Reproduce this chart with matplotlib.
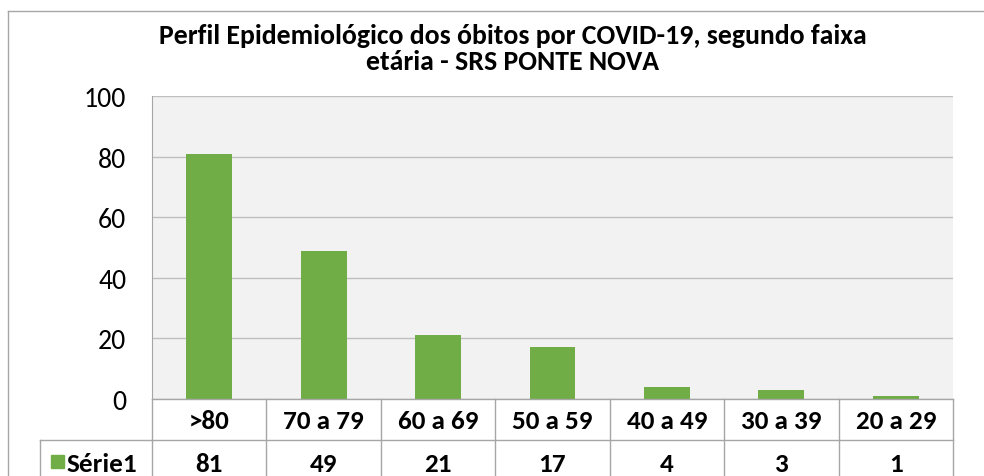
import matplotlib.pyplot as plt
from matplotlib.patches import Rectangle
from matplotlib.lines import Line2D

# data
age_groups = ['>80', '70 a 79', '60 a 69', '50 a 59', '40 a 49', '30 a 39', '20 a 29']
deaths = [81, 49, 21, 17, 4, 3, 1]
series_name = 'Série1'
title_lines = ['Perfil Epidemiológico dos óbitos por COVID-19, segundo faixa',
               'etária - SRS PONTE NOVA']

W, H = 984, 477
BAR = '#70AD47'
GRID = '#BFBFBF'
LINE = '#A6A6A6'

plt.rcParams['font.family'] = ['Carlito', 'Open Sans', 'DejaVu Sans']

fig = plt.figure(figsize=(W / 100, H / 100), dpi=100)


def fx(px):
    return px / W


def fy(py):
    return 1 - py / H


# plot area in pixels
left, right, top, bottom = 152, 953, 97, 400
ax = fig.add_axes([fx(left), fy(bottom), fx(right - left), (bottom - top) / H])
ax.set_facecolor('#F2F2F2')
ax.bar(range(len(deaths)), deaths, width=0.4, color=BAR, zorder=3)
ax.set_xlim(-0.5, len(deaths) - 0.5)
ax.set_ylim(0, 100)
ax.set_yticks(range(0, 101, 20))
ax.yaxis.grid(True, color=GRID, linewidth=1, zorder=0)
ax.set_xticks([])
for s in ['top', 'right', 'bottom']:
    ax.spines[s].set_visible(False)
ax.spines['left'].set_color(LINE)
ax.tick_params(axis='y', length=0, labelsize=20, pad=18.5)

# data table under the plot
row1_bottom, row2_bottom = 441, 490
col_w = (right - left) / len(age_groups)
tf = fig.transFigure
lines = []
lines.append(((left, right), (bottom, bottom)))
lines.append(((left, right), (row1_bottom, row1_bottom)))
lines.append(((40, left), (row1_bottom, row1_bottom)))
lines.append(((40, 40), (row1_bottom, row2_bottom)))
for i in range(len(age_groups) + 1):
    x = left + i * col_w
    lines.append(((x, x), (bottom, row2_bottom)))
for xs, ys in lines:
    fig.add_artist(Line2D([fx(v) for v in xs], [fy(v) for v in ys], transform=tf,
                          color=LINE, linewidth=1))

for i, (g, d) in enumerate(zip(age_groups, deaths)):
    cx = left + (i + 0.5) * col_w
    fig.text(fx(cx), fy(429), g, ha='center', va='baseline',
             fontsize=19.5, fontweight='heavy')
    fig.text(fx(cx), fy(472), str(d), ha='center', va='baseline',
             fontsize=19.5, fontweight='heavy')

fig.add_artist(Rectangle((fx(51), fy(469)), fx(13), 13 / H, transform=tf,
                         color=BAR))
fig.text(fx(67), fy(472), series_name, ha='left', va='baseline',
         fontsize=19.5, fontweight='heavy')

# chart border
fig.add_artist(Line2D([fx(8), fx(984)], [fy(12), fy(12)], transform=tf, color=LINE, linewidth=1))
fig.add_artist(Line2D([fx(8), fx(8)], [fy(12), fy(477)], transform=tf, color=LINE, linewidth=1))

for j, line in enumerate(title_lines):
    fig.text(fx(513), fy(44 + 26.5 * j), line, ha='center', va='baseline',
             fontsize=20, fontweight='heavy')

fig.savefig('out.png', dpi=100, facecolor='white')
